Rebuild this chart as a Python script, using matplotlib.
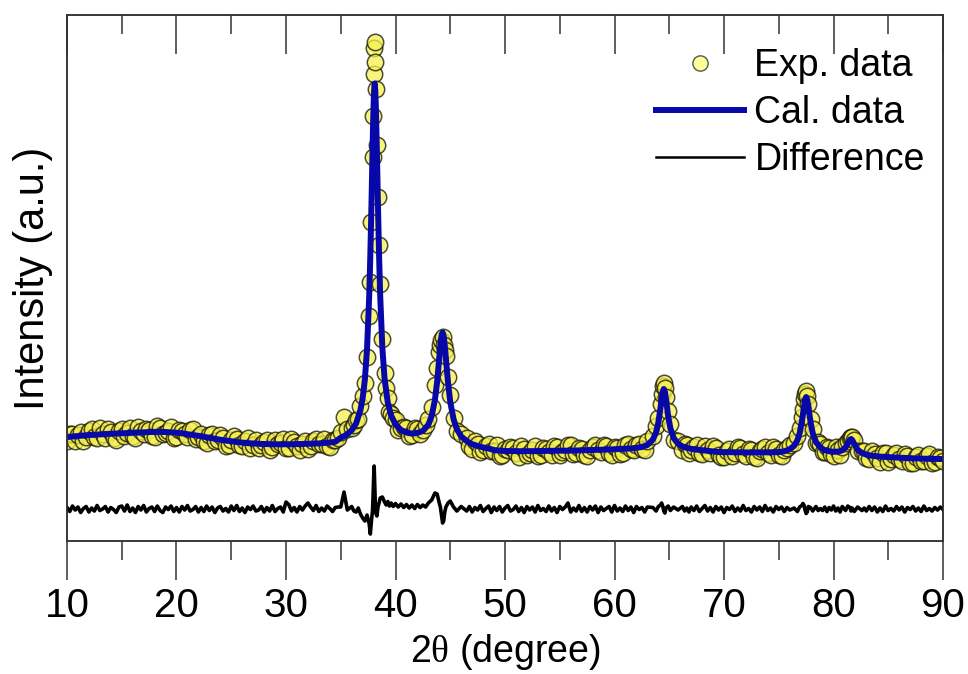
import matplotlib
matplotlib.use("Agg")
import matplotlib.pyplot as plt
import numpy as np
from matplotlib.lines import Line2D
from matplotlib.ticker import MultipleLocator

plt.rcParams['font.family'] = ['Liberation Sans', 'DejaVu Sans']
plt.rcParams['mathtext.fontset'] = 'custom'
plt.rcParams['mathtext.rm'] = 'Liberation Serif'

# ---- measured pattern: 2theta (degree), intensity and difference (counts) ----
exp_theta = [
    10.0, 10.25, 10.5, 10.75, 11.0, 11.25, 11.5, 11.75, 12.0, 12.25,
    12.5, 12.75, 13.0, 13.25, 13.5, 13.75, 14.0, 14.25, 14.5, 14.75,
    15.0, 15.25, 15.5, 15.75, 16.0, 16.25, 16.5, 16.75, 17.0, 17.25,
    17.5, 17.75, 18.0, 18.25, 18.5, 18.75, 19.0, 19.25, 19.5, 19.75,
    20.0, 20.25, 20.5, 20.75, 21.0, 21.25, 21.5, 21.75, 22.0, 22.25,
    22.5, 22.75, 23.0, 23.25, 23.5, 23.75, 24.0, 24.25, 24.5, 24.75,
    25.0, 25.25, 25.5, 25.75, 26.0, 26.25, 26.5, 26.75, 27.0, 27.25,
    27.5, 27.75, 28.0, 28.25, 28.5, 28.75, 29.0, 29.25, 29.5, 29.75,
    30.0, 30.25, 30.5, 30.75, 31.0, 31.25, 31.5, 31.75, 32.0, 32.25,
    32.5, 32.75, 33.0, 33.25, 33.5, 33.75, 34.0, 34.25, 34.5, 34.75,
    35.0, 35.3, 35.6, 36.0, 36.2, 36.4, 36.6, 36.8, 37.0, 37.2,
    37.4, 37.6, 37.7, 37.8, 37.9, 37.95, 38.0, 38.05, 38.1, 38.15,
    38.2, 38.3, 38.4, 38.5, 38.6, 38.8, 39.0, 39.15, 39.3, 39.45,
    39.6, 39.8, 40.0,
    40.25, 40.5, 40.75, 41.0, 41.25, 41.5, 41.75, 42.0, 42.25, 42.5,
    42.75, 43.0, 43.3, 43.6, 43.8, 44.0, 44.1, 44.2, 44.3, 44.4,
    44.5, 44.6, 44.8, 45.0, 45.3, 45.6, 46.0,
    46.5, 46.75, 47.0, 47.25, 47.5, 47.75, 48.0, 48.25, 48.5, 48.75,
    49.0, 49.25, 49.5, 49.75, 50.0, 50.25, 50.5, 50.75, 51.0, 51.25,
    51.5, 51.75, 52.0, 52.25, 52.5, 52.75, 53.0, 53.25, 53.5, 53.75,
    54.0, 54.25, 54.5, 54.75, 55.0, 55.25, 55.5, 55.75, 56.0, 56.25,
    56.5, 56.75, 57.0, 57.25, 57.5, 57.75, 58.0, 58.25, 58.5, 58.75,
    59.0, 59.25, 59.5, 59.75, 60.0, 60.25, 60.5, 60.75, 61.0, 61.25,
    61.5, 61.75, 62.0, 62.25, 62.5, 62.75, 63.0,
    63.5, 63.8, 64.0, 64.2, 64.3, 64.4, 64.5, 64.6, 64.7, 64.9,
    65.1, 65.4, 65.8,
    66.2, 66.4, 66.6, 66.8, 67.0, 67.25, 67.5, 67.75, 68.0, 68.25,
    68.5, 68.75, 69.0, 69.25, 69.5, 69.75, 70.0, 70.25, 70.5, 70.75,
    71.0, 71.25, 71.5, 71.75, 72.0, 72.25, 72.5, 72.75, 73.0, 73.25,
    73.5, 73.75, 74.0, 74.25, 74.5, 74.75, 75.0, 75.25, 75.5, 75.75,
    76.0,
    76.4, 76.7, 76.9, 77.1, 77.2, 77.3, 77.4, 77.5, 77.6, 77.7,
    77.9, 78.1, 78.4, 78.6, 78.8,
    79.0, 79.2, 79.4, 79.6, 79.8, 80.0, 80.2, 80.4, 80.6, 80.8,
    81.1, 81.3, 81.5, 81.6, 81.7, 81.9, 82.2, 82.6,
    82.8, 83.0, 83.25, 83.5, 83.75, 84.0, 84.25, 84.5, 84.75, 85.0,
    85.25, 85.5, 85.75, 86.0, 86.25, 86.5, 86.75, 87.0, 87.25, 87.5,
    87.75, 88.0, 88.25, 88.5, 88.75, 89.0, 89.25, 89.5, 89.75, 90.0,
]

exp_data = [
    1000, 1067, 1075, 998, 1060, 1092, 1000, 1043, 1105, 1116,
    1042, 1029, 1126, 1073, 1035, 1121, 1087, 1029, 1015, 1096,
    1117, 1053, 1085, 1126, 1052, 1029, 1140, 1101, 1072, 1123,
    1115, 1050, 1041, 1151, 1126, 1070, 1085, 1098, 1137, 1035,
    1043, 1110, 1097, 1068, 1044, 1115, 1121, 1021, 1042, 1067,
    997, 977, 1062, 1067, 1002, 1007, 1058, 1033, 949, 956,
    1008, 1049, 1025, 962, 954, 996, 1029, 927, 960, 1008,
    927, 956, 995, 1014, 908, 937, 1007, 972, 982, 1017,
    933, 928, 1023, 988, 949, 914, 975, 1001, 922, 953,
    1004, 1020, 966, 973, 1025, 947, 945, 1013, 1012, 1030,
    1094, 1239, 1119, 1128, 1165, 1206, 1220, 1350, 1447, 1582,
    1840, 2252, 2593, 3195, 3845, 4253, 4666, 4930, 4990, 4790,
    4516, 3960, 3441, 2960, 2568, 2021, 1685, 1530, 1426, 1295,
    1275, 1235, 1206,
    1108, 1130, 1137, 1134, 1055, 1065, 1128, 1121, 1071, 1111,
    1162, 1223, 1339, 1561, 1730, 1886, 1960, 2013, 2037, 1960,
    1915, 1850, 1640, 1461, 1230, 1100, 1075,
    1035, 954, 923, 1004, 970, 893, 906, 950, 975, 903,
    900, 962, 849, 862, 925, 910, 939, 933, 878, 843,
    953, 923, 863, 878, 909, 950, 850, 865, 930, 916,
    887, 857, 947, 942, 863, 893, 908, 959, 964, 874,
    880, 926, 922, 858, 854, 915, 945, 956, 907, 887,
    963, 949, 885, 861, 938, 929, 875, 882, 963, 974,
    916, 909, 957, 966, 920, 915, 1005,
    1053, 1148, 1233, 1372, 1469, 1551, 1580, 1531, 1439, 1300,
    1168, 1010, 1003,
    906, 974, 957, 882, 907, 938, 964, 881, 873, 955,
    912, 885, 952, 934, 865, 840, 839, 903, 917, 852,
    877, 941, 930, 866, 846, 916, 906, 841, 831, 896,
    922, 937, 882, 863, 938, 923, 859, 853, 912, 932,
    957,
    982, 1047, 1135, 1238, 1325, 1416, 1473, 1500, 1453, 1366,
    1221, 1119, 979, 992, 966,
    887, 888, 943, 933, 875, 852, 937, 913, 860, 937,
    976, 1004, 1033, 1040, 1041, 1009, 903, 905,
    902, 834, 818, 897, 875, 827, 794, 877, 880, 789,
    823, 861, 884, 822, 796, 870, 849, 783, 782, 841,
    860, 799, 803, 852, 867, 781, 790, 840, 835, 805,
]

diff_data = [
    15, -25, 30, -10, 20, -35, 5, 25, -30, 10,
    -20, 35, -15, 0, 25, -30, 15, -5, -35, 20,
    30, -20, 40, -25, 10, -35, 25, -10, 35, -30,
    5, 20, -25, 30, -15, -35, 20, -5, 30, -25,
    15, -30, 25, -10, 35, -20, -5, 25, -30, 15,
    -25, 30, -15, 20, -35, 10, 25, -20, 5, -30,
    30, -15, 35, -25, 10, -35, 20, -5, 30, -20,
    -10, 25, -30, 15, -20, 35, -25, 5, 20, -30,
    70, 45, -20, 15, -30, 25, -10, 30, 60, 20,
    -15, 35, -25, 10, -20, 30, 5, -25, 15, 20,
    20, 170, -10, 25, -20, -30, 10, -50, -90, -120,
    -60, -150, -250, -120, -20, 120, 300, 430, 250, 80,
    -40, -70, 20, 60, 110, 120, 70, 40, 75, 30,
    60, 25, 55,
    20, 50, 15, 45, 10, 40, 5, 45, 15, 40,
    20, 60, 90, 160, 150, 60, 20, -60, -140, -120,
    -30, 20, 60, 80, 20, -20, 25,
    -20, 25, -30, 15, -10, 35, -25, 5, 30, -35,
    20, -15, 25, -30, 10, 35, -20, -5, 30, -25,
    15, -35, 25, -10, 20, -30, 35, -15, 5, -25,
    30, -20, 15, -35, 25, -5, 20, 60, -30, 10,
    -20, 35, -25, 15, -30, 25, -10, 30, -35, 20,
    -15, 5, 25, -30, 35, -20, 10, -25, 30, -15,
    20, -35, 25, -5, 15, -30, 20,
    15, -20, 25, 40, 60, 30, -20, -40, 10, 30,
    -15, 20, -10,
    25, -20, 10, -30, 20, -15, 30, -25, 5, 35,
    -20, 15, -30, 25, -10, 20, -35, 15, -5, 30,
    -25, 10, -20, 35, -15, 5, -30, 25, -10, 20,
    -25, 35, -15, 10, -30, 25, -5, 20, -25, 15,
    -10,
    10, -25, 20, 35, 55, 40, -10, -45, -30, 25,
    15, -20, 25, -15, 5,
    -15, 20, -25, 15, -10, 30, -20, 10, -30, 25,
    -15, 30, 15, -20, 10, -25, 20, -15,
    10, -20, 25, -15, 20, -30, 10, -25, 30, -15,
    5, -20, 25, -10, 20, -30, 15, -5, 25, -20,
    10, -25, 30, -15, 5, -20, 15, -10, 20, -5,
]
diff_offset = 320

# ---- calculated (refined) profile ----
cal_theta = [
    10.0, 10.5, 11.0, 11.5, 12.0, 12.5, 13.0, 13.5, 14.0, 14.5,
    15.0, 15.5, 16.0, 16.5, 17.0, 17.5, 18.0, 18.5, 19.0, 19.5,
    20.0, 20.5, 21.0, 21.5, 22.0, 22.5, 23.0, 23.5, 24.0, 24.5,
    25.0, 25.5, 26.0, 26.5, 27.0, 27.5, 28.0, 28.5, 29.0, 29.5,
    30.0, 30.5, 31.0, 31.5, 32.0, 32.5, 33.0, 33.5, 34.0, 34.5,
    35.0, 35.3, 35.6, 36.0, 36.4, 36.8, 37.0, 37.2, 37.4, 37.6,
    37.7, 37.8, 37.9, 37.95, 38.0, 38.05, 38.1, 38.15, 38.2, 38.3,
    38.4, 38.5, 38.6, 38.8, 39.0, 39.3, 39.6, 40.0,
    40.5, 41.0, 41.5, 42.0, 42.5, 43.0, 43.3, 43.6, 43.8, 44.0,
    44.1, 44.2, 44.3, 44.4, 44.5, 44.6, 44.8, 45.0, 45.3, 45.6, 46.0,
    46.5, 47.0, 47.5, 48.0, 48.5, 49.0, 49.5, 50.0, 50.5, 51.0,
    51.5, 52.0, 52.5, 53.0, 53.5, 54.0, 54.5, 55.0, 55.5, 56.0,
    56.5, 57.0, 57.5, 58.0, 58.5, 59.0, 59.5, 60.0, 60.5, 61.0,
    61.5, 62.0, 62.5, 63.0,
    63.5, 63.8, 64.0, 64.2, 64.3, 64.4, 64.5, 64.6, 64.7, 64.9,
    65.1, 65.4, 65.8,
    66.2, 66.6, 67.0, 67.5, 68.0, 68.5, 69.0, 69.5, 70.0, 70.5,
    71.0, 71.5, 72.0, 72.5, 73.0, 73.5, 74.0, 74.5, 75.0, 75.5, 76.0,
    76.4, 76.7, 76.9, 77.1, 77.2, 77.3, 77.4, 77.5, 77.6, 77.7,
    77.9, 78.1, 78.4, 78.8,
    79.2, 79.6, 80.0, 80.4, 80.8, 81.1, 81.3, 81.5, 81.6, 81.7,
    81.9, 82.2, 82.6,
    83.0, 83.5, 84.0, 84.5, 85.0, 85.5, 86.0, 86.5, 87.0, 87.5,
    88.0, 88.5, 89.0, 89.5, 90.0,
]

cal_data = [
    1040, 1045, 1050, 1055, 1060, 1062, 1066, 1070, 1072, 1075,
    1077, 1080, 1082, 1085, 1087, 1090, 1091, 1091, 1090, 1087,
    1083, 1077, 1069, 1061, 1052, 1042, 1032, 1022, 1013, 1004,
    998, 990, 984, 979, 975, 972, 970, 968, 967, 967,
    968, 968, 969, 970, 972, 974, 976, 980, 985, 992,
    1034, 1049, 1069, 1108, 1176, 1310, 1427, 1612, 1920, 2452,
    2853, 3345, 3895, 4153, 4366, 4510, 4575, 4510, 4366, 3900,
    3351, 2860, 2458, 1931, 1625, 1381, 1255, 1166,
    1110, 1084, 1075, 1081, 1101, 1163, 1249, 1411, 1590, 1836,
    1960, 2053, 2087, 2050, 1955, 1830, 1580, 1391, 1220, 1120, 1045,
    1000, 968, 950, 936, 925, 910, 904, 900, 899, 898,
    898, 898, 899, 900, 900, 902, 902, 903, 903, 904,
    905, 907, 909, 910, 912, 913, 915, 918, 920, 923,
    926, 932, 940, 960,
    1013, 1088, 1183, 1332, 1419, 1491, 1520, 1491, 1419, 1250,
    1128, 1030, 973,
    946, 932, 922, 914, 908, 902, 897, 890, 889, 887,
    887, 885, 886, 886, 886, 887, 887, 888, 889, 897, 917,
    952, 1007, 1075, 1188, 1265, 1346, 1413, 1440, 1413, 1346,
    1191, 1079, 989, 936,
    908, 898, 892, 893, 907, 936, 974, 1013, 1020, 1011,
    969, 913, 880,
    864, 852, 847, 842, 839, 836, 832, 830, 828, 826,
    824, 822, 821, 820, 820,
]

fig = plt.figure(figsize=(9.68, 6.74), dpi=100)
ax = fig.add_axes([0.0692, 0.1973, 0.9050, 0.7804])

ax.scatter(exp_theta, exp_data, s=140, facecolor='#f5ef50', edgecolor='#141400',
           linewidth=1.1, alpha=0.75, zorder=2)
ax.plot(cal_theta, cal_data, color='#0808a8', lw=4.3, zorder=3)
ax.plot(exp_theta, np.array(diff_data) + diff_offset, color='black', lw=2.6, zorder=3)

ax.set_xlim(10, 90)
ax.set_ylim(0, 5260)
ax.set_yticks([])

ax.xaxis.set_major_locator(MultipleLocator(10))
ax.xaxis.set_minor_locator(MultipleLocator(5))
ax.tick_params(axis='x', which='major', direction='out', length=28, width=1.1,
               color='#333333', labelsize=29, pad=5)
ax.tick_params(axis='x', which='minor', direction='out', length=14, width=1.1,
               color='#333333')

# top axis: inward ticks, no labels
top = ax.twiny()
top.set_xlim(10, 90)
top.xaxis.set_major_locator(MultipleLocator(10))
top.xaxis.set_minor_locator(MultipleLocator(5))
top.tick_params(axis='x', which='major', direction='in', length=28, width=1.1,
                color='#333333', labeltop=False)
top.tick_params(axis='x', which='minor', direction='in', length=14, width=1.1,
                color='#333333')

for a in (ax, top):
    for sp in a.spines.values():
        sp.set_color('#333333')
        sp.set_linewidth(1.1)

ax.set_xlabel(r'2$\mathrm{\theta}$ (degree)', fontsize=27, labelpad=5.5)
ax.set_ylabel('Intensity (a.u.)', fontsize=30, labelpad=10)

handles = [
    Line2D([], [], ls='none', marker='o', markersize=11, markerfacecolor='#ffff99',
           markeredgecolor='#555555', markeredgewidth=1.0),
    Line2D([], [], color='#0808a8', lw=4.3),
    Line2D([], [], color='black', lw=1.8),
]
ax.legend(handles, ['Exp. data', 'Cal. data', 'Difference'], loc='upper right',
          bbox_to_anchor=(0.992, 0.958), frameon=False, fontsize=27,
          handlelength=2.35, handletextpad=0.27, labelspacing=0.29,
          borderaxespad=0.0, borderpad=0.3)

fig.savefig('out.png', dpi=100)
